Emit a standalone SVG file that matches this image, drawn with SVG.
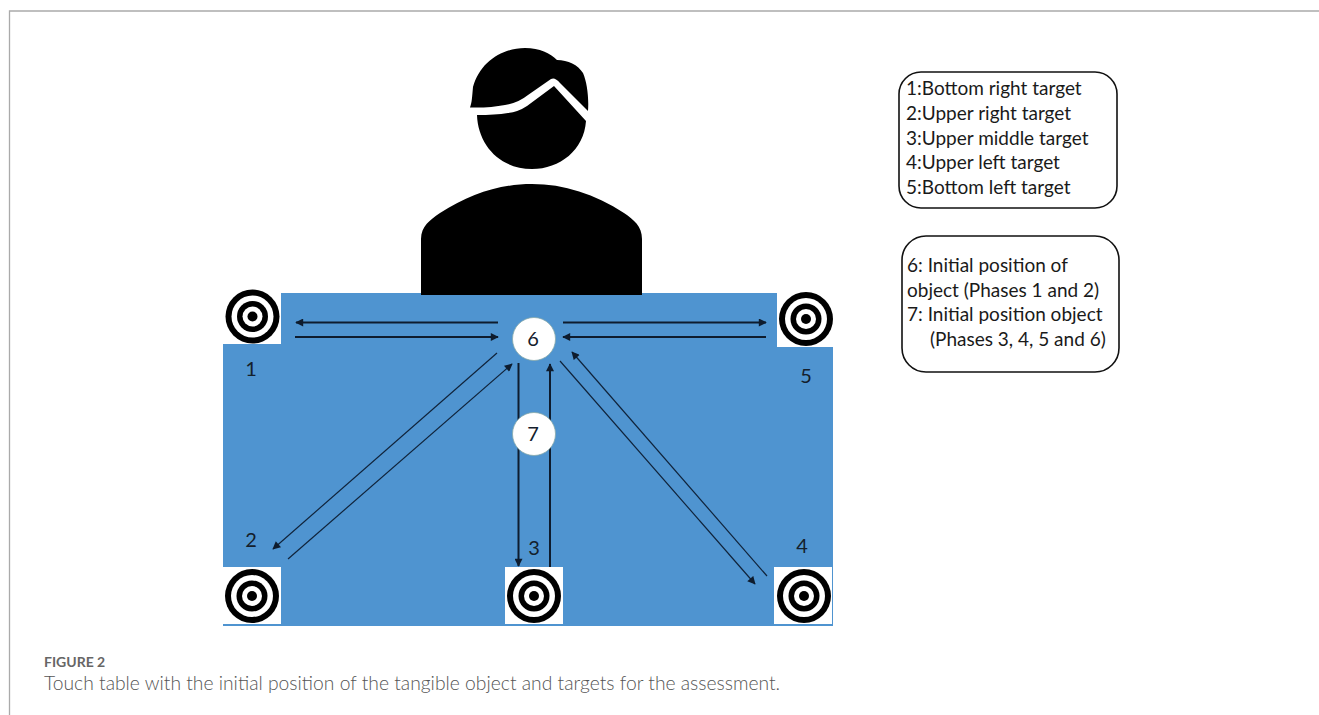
<svg xmlns="http://www.w3.org/2000/svg" width="1319" height="715" viewBox="0 0 1319 715">
<style>
.l{font-family:"Lato","Liberation Sans",sans-serif;fill:#1a1a1a;font-size:19px}
.n{font-family:"Lato","Liberation Sans",sans-serif;fill:#14202c;font-size:20px;text-anchor:middle}
.c{fill:none;stroke:#10233a;stroke-width:1.2}
.t{fill:none;stroke:#0e1c2e;stroke-width:2}
.box{fill:#fff;stroke:#111;stroke-width:1.6}
.w{fill:#fff}
.o{fill:#fff;stroke:#8aa;stroke-width:.8}
</style>
<defs>
<marker id="a" viewBox="0 0 10 10" refX="9" refY="5" markerWidth="9" markerHeight="8" markerUnits="userSpaceOnUse" orient="auto"><path d="M0 0L10 5L0 10Z" fill="#0e1c2e"/></marker>
<g id="tg"><circle r="27" fill="#000"/><circle r="21" fill="#fff"/><circle r="15.500" fill="#000"/><circle r="10" fill="#fff"/><circle r="5" fill="#000"/></g>
</defs>
<rect width="1319" height="715" fill="#fff"/>
<path d="M1319 11H9.500V715" fill="none" stroke="#aaa" stroke-width="1.300"/>
<g id="table">
<rect x="223" y="293" width="610" height="333" fill="#4f94d0"/>
<rect class="w" x="223" y="292" width="58" height="52"/>
<rect class="w" x="777" y="292" width="57" height="55"/>
<rect class="w" x="223" y="567" width="58" height="57"/>
<rect class="w" x="505" y="567" width="58" height="57"/>
<rect class="w" x="774" y="567" width="58" height="57"/>
</g>
<g id="person">
<path d="M470 107.500C472 102 472 98 473 87C480 62 502 48 525 48C540 48 550 53 557 60C568 60 578 65 583 73C587 82 589 98 588 111L560 83Q555 77 551 79L528 95Q518 103 505 105Q490 108 470 107.500Z"/>
<path d="M477 115Q495 115 508 113Q518 112 527 106L554 86L586 121C584 150 560 169 532 169C500 169 478 145 477 115Z"/>
<path d="M421 295V239C421 226 430 220 440 213C470 194 500 184 532 184C564 184 595 194 624 213C634 220 642 226 642 239V295Z"/>
</g>
<g id="connectors">
<line class="t" x1="498" y1="322.500" x2="296" y2="322.500" marker-end="url(#a)"/>
<line class="t" x1="295" y1="337" x2="498" y2="337" marker-end="url(#a)"/>
<line class="t" x1="563" y1="322.500" x2="766" y2="322.500" marker-end="url(#a)"/>
<line class="t" x1="766" y1="337" x2="563" y2="337" marker-end="url(#a)"/>
<line class="c" x1="497" y1="353" x2="273" y2="549" marker-end="url(#a)"/>
<line class="c" x1="288" y1="559" x2="512" y2="364" marker-end="url(#a)"/>
<line class="t" x1="518.500" y1="363" x2="518.500" y2="566" marker-end="url(#a)"/>
<line class="t" x1="550" y1="567" x2="550" y2="364" marker-end="url(#a)"/>
<line class="c" x1="560" y1="361" x2="755" y2="584" marker-end="url(#a)"/>
<line class="c" x1="767" y1="576" x2="572" y2="352" marker-end="url(#a)"/>
</g>
<g id="target-1"><use href="#tg" x="252.500" y="316.500"/><text class="n" x="251" y="376">1</text></g>
<g id="target-2"><use href="#tg" x="252" y="596"/><text class="n" x="251" y="547">2</text></g>
<g id="target-3"><use href="#tg" x="534" y="596"/><text class="n" x="534" y="555">3</text></g>
<g id="target-4"><use href="#tg" x="804" y="596"/><text class="n" x="802" y="553">4</text></g>
<g id="target-5"><use href="#tg" x="806" y="319"/><text class="n" x="806" y="383">5</text></g>
<g id="node-6"><circle class="o" cx="534" cy="339" r="21.500"/><text class="n" x="533" y="346">6</text></g>
<g id="node-7"><circle class="o" cx="534" cy="434" r="21.500"/><text class="n" x="533" y="441">7</text></g>
<g id="legend-1">
<rect class="box" x="899" y="72" width="218" height="136" rx="22"/>
<text class="l" x="906" y="95">1:Bottom right target</text>
<text class="l" x="906" y="120">2:Upper right target</text>
<text class="l" x="906" y="145">3:Upper middle target</text>
<text class="l" x="906" y="169">4:Upper left target</text>
<text class="l" x="906" y="194">5:Bottom left target</text>
</g>
<g id="legend-2">
<rect class="box" x="902" y="236" width="217" height="136" rx="24"/>
<text class="l" x="907" y="272">6: Initial position of</text>
<text class="l" x="907" y="297">object (Phases 1 and 2)</text>
<text class="l" x="907" y="321">7: Initial position object</text>
<text class="l" x="930" y="346">(Phases 3, 4, 5 and 6)</text>
</g>
<text x="44" y="667" font-family="Lato,'Liberation Sans',sans-serif" font-size="14" font-weight="700" fill="#666">FIGURE 2</text>
<text x="44" y="690" font-family="Lato,'Liberation Sans',sans-serif" font-size="19.300" font-weight="300" fill="#555">Touch table with the initial position of the tangible object and targets for the assessment.</text>
</svg>
